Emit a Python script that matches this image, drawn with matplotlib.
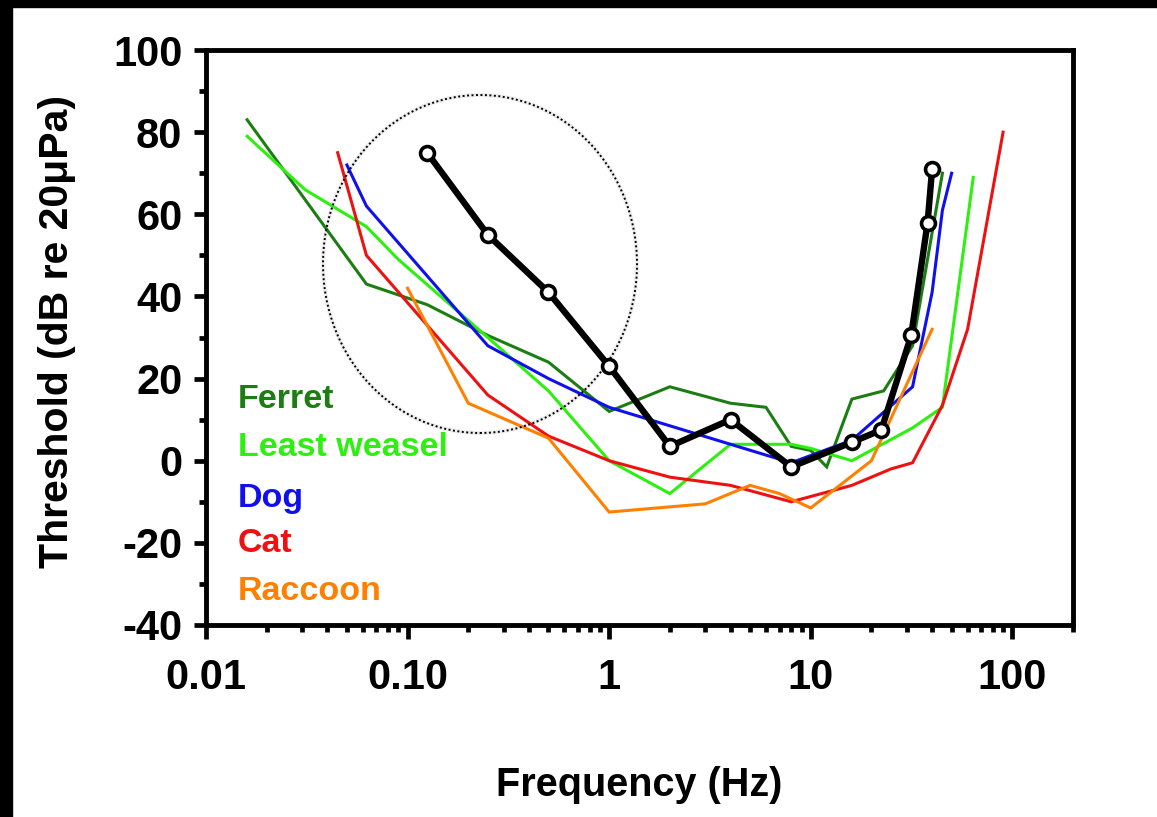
import matplotlib
matplotlib.use("Agg")
import matplotlib.pyplot as plt
from matplotlib.patches import Ellipse, Rectangle
from matplotlib.ticker import FixedLocator, LogLocator, MultipleLocator, NullFormatter

plt.rcParams['font.family'] = ['Liberation Sans', 'DejaVu Sans']
plt.rcParams['font.weight'] = 'bold'
plt.rcParams['axes.unicode_minus'] = False

# ---- data ----
ferret_f = [0.016, 0.0625, 0.125, 0.25, 0.5, 1, 2, 4, 6, 8, 10, 12, 16, 23, 32, 45]
ferret_db = [83, 43, 38, 30.5, 24, 12, 18, 14, 13, 3.5, 2.5, -1.5, 15, 17, 28, 70]

weasel_f = [0.016, 0.031, 0.0625, 0.09, 0.25, 0.5, 1, 2, 4, 8, 10, 16, 32, 45, 64]
weasel_db = [79, 66, 57, 49, 30, 17, 0, -8, 4, 4, 3, 0, 8, 13, 69]

dog_f = [0.05, 0.0625, 0.25, 0.5, 1, 2, 4, 8, 16, 32, 40, 45, 50]
dog_db = [72, 62, 28, 20, 13, 8.5, 4, -0.5, 5, 18, 41, 61, 70]

cat_f = [0.045, 0.0625, 0.25, 0.5, 1, 2, 4, 8, 16, 25, 32, 45, 60, 90]
cat_db = [75, 50, 16, 6, 0, -4, -6, -10, -6, -2, -0.5, 13.5, 32, 80]

raccoon_f = [0.1, 0.2, 0.5, 1, 3, 5, 7, 10, 20, 40]
raccoon_db = [42, 14, 5.5, -12.5, -10.5, -6, -8, -11.5, 0, 32]

black_f = [0.125, 0.25, 0.5, 1, 2, 4, 8, 16, 22.4, 31.5, 38, 40]
black_db = [75, 55, 41, 23, 3.5, 10, -1.5, 4.5, 7.5, 30.5, 58, 71]

species = ["Ferret", "Least weasel", "Dog", "Cat", "Raccoon"]
colors = ["#1b7d12", "#2ef010", "#1010ee", "#ee1111", "#ff8000"]

x_ticks = [0.01, 0.1, 1, 10, 100]
x_ticklabels = ["0.01", "0.10", "1", "10", "100"]
y_ticks = [-40, -20, 0, 20, 40, 60, 80, 100]

# ---- figure ----
W, H = 1157, 817
fig = plt.figure(figsize=(W / 100, H / 100), dpi=100)
fig.patch.set_facecolor("white")
# black border bands (top and left)
fig.patches.append(Rectangle((0, 1 - 7 / H), 1, 7 / H, transform=fig.transFigure,
                             color="black", zorder=0))
fig.patches.append(Rectangle((0, 0), 12 / W, 1, transform=fig.transFigure,
                             color="black", zorder=0))

ax = fig.add_axes([206 / W, 1 - 625 / H, (1073 - 206) / W, (625 - 50) / H])

series = [(ferret_f, ferret_db), (weasel_f, weasel_db), (dog_f, dog_db),
          (cat_f, cat_db), (raccoon_f, raccoon_db)]
for (f, db), c in zip(series, colors):
    ax.plot(f, db, color=c, lw=2.2, zorder=3, solid_joinstyle='miter')

# dotted ellipse annotation (axes coords)
cx, cy = (480 - 206) / 867, (625 - 264) / 575
ew, eh = 314 / 867, 338 / 575
ax.add_patch(Ellipse((cx, cy), ew, eh, transform=ax.transAxes, fill=False,
                     ec="#eeeeee", lw=3.0, zorder=2))
ax.add_patch(Ellipse((cx, cy), ew, eh, transform=ax.transAxes, fill=False,
                     ec="black", lw=1.4, ls=(0, (1, 1.3)), zorder=4))

ax.plot(black_f, black_db, color="black", lw=4.6, zorder=5,
        marker="o", ms=10, mfc="white", mec="black", mew=2.6)

ax.set_xscale("log")
ax.set_xlim(0.01, 200)
ax.set_ylim(-40, 100)

ax.xaxis.set_major_locator(FixedLocator(x_ticks))
ax.set_xticklabels(x_ticklabels)
ax.xaxis.set_minor_locator(LogLocator(base=10, subs=range(2, 10), numticks=20))
ax.xaxis.set_minor_formatter(NullFormatter())
ax.set_yticks(y_ticks)
ax.yaxis.set_minor_locator(MultipleLocator(10))

for s in ax.spines.values():
    s.set_linewidth(3.5)
ax.tick_params(which="major", direction="out", length=10, width=3.4,
               labelsize=30, pad=14)
ax.tick_params(axis="y", which="major", length=9, pad=8)
ax.tick_params(which="minor", direction="out", length=5, width=3.4)
ax.tick_params(top=False, right=False)
for lab in ax.get_xticklabels() + ax.get_yticklabels():
    lab.set_fontweight("bold")

ax.set_xlabel("Frequency (Hz)", fontsize=28.5, fontweight="bold")
ax.xaxis.label.set_va("center")
ax.xaxis.set_label_coords(0.5, (625 - 785) / 575)
ax.set_ylabel("Threshold (dB re 20μPa)", fontsize=29.5, fontweight="bold")
ax.yaxis.label.set_va("center")
ax.yaxis.set_label_coords((57 - 206) / 867, (625 - 332) / 575)

# colored legend text
leg_y = [400, 447, 498, 543, 592]
for name, c, yp in zip(species, colors, leg_y):
    ax.text((238 - 206) / 867, (625 - yp) / 575, name, color=c, fontsize=24.5,
            fontweight="bold", ha="left", va="center", transform=ax.transAxes,
            zorder=6)

fig.savefig("out.png", dpi=100, facecolor="white")
